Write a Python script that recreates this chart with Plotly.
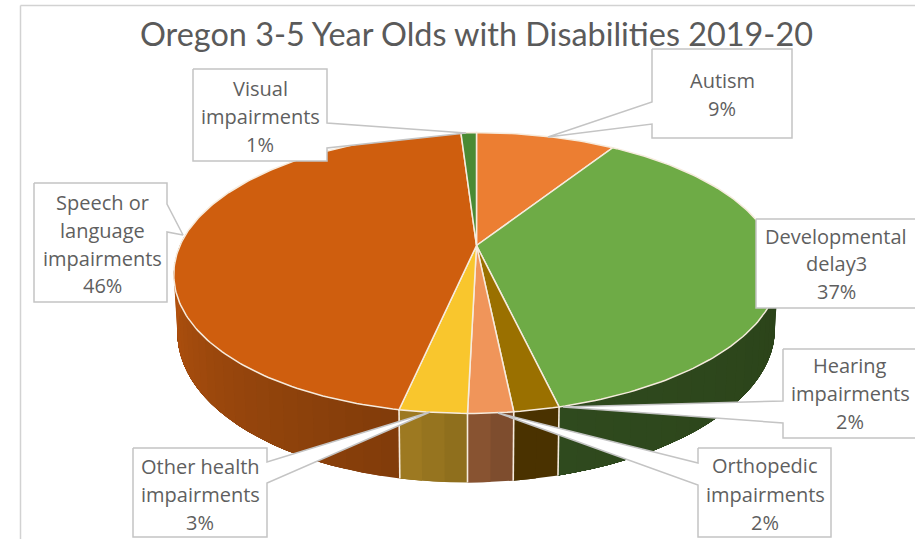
import numpy as np
import plotly.graph_objects as go

# Data ---------------------------------------------------------------------
categories = ["Autism", "Developmental delay3", "Hearing impairments",
              "Orthopedic impairments", "Other health impairments",
              "Speech or language impairments", "Visual impairments"]
shares = [9, 37, 2, 2, 3, 46, 1]
title_text = "Oregon 3-5 Year Olds with Disabilities 2019-20"

# Styles -------------------------------------------------------------------
top_colors = ["#EC7E32", "#6EAB46", "#9A7000", "#F0955A", "#F9C62D", "#CF5E0E", "#4A8A33"]
wall_colors = [("#A85A22", "#A85A22"), ("#2A4118", "#2F4A1E"), ("#4A3200", "#4A3200"),
               ("#7A4A2C", "#8C5633"), ("#8C6C1C", "#A07C22"), ("#813C0A", "#BA550F"),
               ("#356025", "#356025")]
seam = "#F6EBDD"
box_line = "#C4C4C4"
text_color = "#5F5F5F"
label_font = "Open Sans"
label_size = 20

# Pie geometry in page pixels: a tilted disc with perspective
cx, cy = 476.5, 245.5
radius_x, radius_y = 296.5, 135.0
perspective = 0.196
thickness = 55.5
near_lean = 9.0


def rim(theta_deg, drop=0.0):
    """Screen position of the disc edge at a clockwise angle from twelve o'clock."""
    t = np.radians(theta_deg)
    across, depth = np.sin(t), -np.cos(t)
    w = 1 - perspective * depth
    shrink = 1 - 0.012 * (drop > 0)
    x = cx + shrink * radius_x * across / w - near_lean * np.clip(depth, 0, None) ** 2
    y = cy + (radius_y * depth + drop) / w
    return x, y


def blend(a, b, f):
    ca = [int(a[i:i + 2], 16) for i in (1, 3, 5)]
    cb = [int(b[i:i + 2], 16) for i in (1, 3, 5)]
    return "#%02X%02X%02X" % tuple(round(p + (q - p) * f) for p, q in zip(ca, cb))


fig = go.Figure()
edges = np.concatenate([[0], np.cumsum(shares)]) * 3.6

# Side wall, drawn as short strips so the shading can vary along the rim.
# Each strip runs from its start to the end of the slice and the next one paints
# over it, so no hairline gaps open between neighbours.
for i in range(len(shares)):
    lo, hi = max(edges[i], 85.0), min(edges[i + 1], 275.0)
    if hi <= lo:
        continue
    steps = max(2, int((hi - lo) / 3))
    cuts = np.linspace(lo, hi, steps + 1)
    for j in range(steps):
        arc = np.linspace(cuts[j], hi, max(3, steps - j + 2))
        xt, yt = rim(arc)
        xb, yb = rim(arc[::-1], thickness)
        color = blend(*wall_colors[i], (j + 0.5) / steps)
        fig.add_trace(go.Scatter(x=np.r_[xt, xb], y=np.r_[yt, yb], mode="lines",
                                 fill="toself", fillcolor=color,
                                 line=dict(width=0), hoverinfo="skip"))

# Seams where neighbouring slices meet on the front wall
for e in edges[1:-1]:
    if 90 < e < 270:
        xt, yt = rim(e)
        xb, yb = rim(e, thickness)
        fig.add_trace(go.Scatter(x=[xt, xb], y=[yt, yb], mode="lines",
                                 line=dict(color=seam, width=1.6), hoverinfo="skip"))

# Top faces
for i, name in enumerate(categories):
    arc = np.linspace(edges[i], edges[i + 1], max(3, int(shares[i] * 3.6) + 1))
    xr, yr = rim(arc)
    fig.add_trace(go.Scatter(x=np.r_[cx, xr, cx], y=np.r_[cy, yr, cy], mode="lines",
                             fill="toself", fillcolor=top_colors[i], name=name,
                             line=dict(color=seam, width=1.5), hoverinfo="name"))

# Callout boxes: left, top, right, bottom, then the pointer (side point, tip, side point)
callouts = [
    dict(box=(193, 69, 327, 161), pointer=((327, 123), (466, 133), (327, 148)), side="right"),
    dict(box=(652, 49, 792, 138), pointer=((652, 102), (548, 137), (652, 124)), side="left"),
    dict(box=(756, 219, 930, 308), pointer=None, side=None),
    dict(box=(783, 349, 930, 438), pointer=((783, 401), (563, 407), (783, 423)), side="left"),
    dict(box=(698, 448, 831, 537), pointer=((698, 463), (498, 413), (698, 485)), side="left"),
    dict(box=(133, 448, 267, 537), pointer=((267, 462), (430, 412), (267, 483)), side="right"),
    dict(box=(34, 183, 167, 302), pointer=((167, 204), (183, 235), (167, 232)), side="right"),
]
for c in callouts:
    l, t, r, b = c["box"]
    if c["pointer"] is None:
        xs, ys = [l, r, r, l, l], [t, t, b, b, t]
    else:
        (x1, y1), (xm, ym), (x2, y2) = c["pointer"]
        if c["side"] == "right":
            xs = [l, r, x1, xm, x2, r, l, l]
            ys = [t, t, y1, ym, y2, b, b, t]
        else:
            xs = [l, r, r, l, x2, xm, x1, l]
            ys = [t, t, b, b, y2, ym, y1, t]
    fig.add_trace(go.Scatter(x=xs, y=ys, mode="lines", fill="toself", fillcolor="white",
                             line=dict(color=box_line, width=1.5), hoverinfo="skip"))

# Callout wording, one entry per line: centre x, centre y, text
label_lines = [
    (260, 88, "Visual"), (260, 116, "impairments"), (260, 144, f"{shares[6]}%"),
    (722, 80, "Autism"), (722, 108, f"{shares[0]}%"),
    (102, 202, "Speech or"), (102, 230, "language"), (102, 258, "impairments"), (102, 285, f"{shares[5]}%"),
    (836, 236, "Developmental"), (836, 263, "delay3"), (836, 291, f"{shares[1]}%"),
    (850, 365, "Hearing"), (850, 393, "impairments"), (850, 421, f"{shares[2]}%"),
    (765, 465, "Orthopedic"), (765, 494, "impairments"), (765, 522, f"{shares[3]}%"),
    (200, 466, "Other health"), (200, 494, "impairments"), (200, 522, f"{shares[4]}%"),
]
annotations = [dict(x=x, y=y, text=s, showarrow=False, xref="x", yref="y",
                    xanchor="center", yanchor="middle",
                    font=dict(family=label_font, size=label_size, color=text_color))
               for x, y, s in label_lines]
annotations.append(dict(x=476, y=33, text=title_text, showarrow=False, xref="x", yref="y",
                        xanchor="center", yanchor="middle",
                        font=dict(family="Lato", size=32.4, color="#5A5A5A")))

# Chart frame, open at the right and bottom page edges
shapes = [dict(type="line", xref="x", yref="y", x0=20.5, y0=5.5, x1=915, y1=5.5,
               line=dict(color="#D2D2D2", width=1.5)),
          dict(type="line", xref="x", yref="y", x0=20.5, y0=5.5, x1=20.5, y1=539,
               line=dict(color="#D2D2D2", width=1.5))]

fig.update_layout(
    width=915, height=539, margin=dict(l=0, r=0, t=0, b=0),
    paper_bgcolor="white", plot_bgcolor="white", showlegend=False,
    xaxis=dict(range=[0, 915], visible=False, fixedrange=True),
    yaxis=dict(range=[539, 0], visible=False, fixedrange=True),
    annotations=annotations, shapes=shapes,
)
fig.write_html("out.html", config=dict(displayModeBar=False))
